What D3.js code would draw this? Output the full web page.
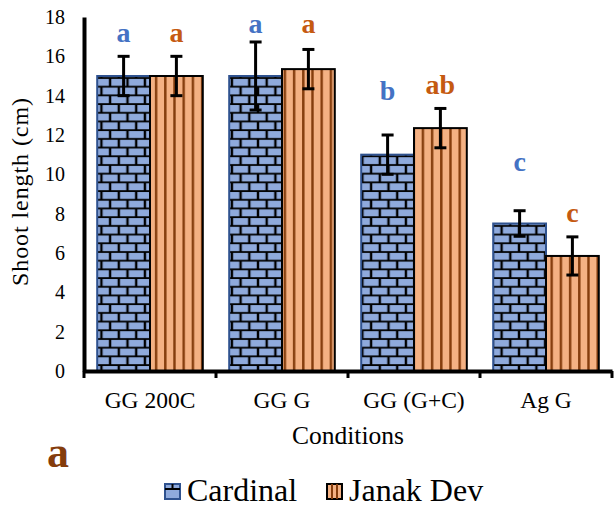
<!DOCTYPE html>
<html>
<head>
<meta charset="UTF-8">
<title>Shoot length</title>
<script src="https://cdn.jsdelivr.net/npm/d3@7"></script>
<style>
  body { margin: 0; background: #fff; }
</style>
</head>
<body>
<div id="chart"></div>
<script>
var conditions = ["GG 200C", "GG G", "GG (G+C)", "Ag G"];
var series = ["Cardinal", "Janak Dev"];
var cardinal = [15.0, 15.0, 11.0, 7.5];
var janak = [15.0, 15.35, 12.35, 5.85];
var cardinalErr = [1.0, 1.73, 1.0, 0.65];
var janakErr = [1.0, 1.0, 1.0, 0.97];
var cardinalLetters = ["a", "a", "b", "c"];
var janakLetters = ["a", "a", "ab", "c"];
// heights (in cm) where the letters sit
var cardinalLetterAt = [16.73, 17.18, 13.78, 10.17];
var janakLetterAt = [16.73, 17.18, 14.08, 7.57];
var yTicks = [0, 2, 4, 6, 8, 10, 12, 14, 16, 18];

var fonte = 'Liberation Serif';
var largura = 614, altura = 508;
var margin = {top: 17, left: 84, right: 2, bottom: 137};
var plotW = largura - margin.left - margin.right,
    plotH = altura - margin.top - margin.bottom;

var svg = d3.select('#chart').append('svg')
  .attr('width', largura).attr('height', altura);

var defs = svg.append('defs');
// brick pattern for Cardinal
var brick = defs.append('pattern').attr('id', 'brick')
  .attr('patternUnits', 'userSpaceOnUse')
  .attr('width', 17.4).attr('height', 17.4);
brick.append('rect').attr('width', 17.4).attr('height', 17.4).attr('fill', '#000');
brick.append('rect').attr('x', 1.2).attr('y', 1).attr('width', 15).attr('height', 6.9).attr('fill', '#8FAADC');
brick.append('rect').attr('x', -7.5).attr('y', 9.7).attr('width', 15).attr('height', 6.9).attr('fill', '#8FAADC');
brick.append('rect').attr('x', 9.9).attr('y', 9.7).attr('width', 15).attr('height', 6.9).attr('fill', '#8FAADC');

// vertical stripes for Janak Dev
var stripes = defs.append('pattern').attr('id', 'stripes')
  .attr('patternUnits', 'userSpaceOnUse')
  .attr('width', 9.2).attr('height', 10);
stripes.append('rect').attr('width', 9.2).attr('height', 10).attr('fill', '#F4B183');
stripes.append('rect').attr('x', 6.5).attr('width', 2.4).attr('height', 10).attr('fill', '#843C0C');

var g = svg.append('g')
  .attr('transform', 'translate(' + margin.left + ',' + margin.top + ')');

var x0 = d3.scaleBand().domain(conditions).range([0, plotW])
  .paddingInner(0.2).paddingOuter(0.1);
var x1 = d3.scaleBand().domain(series).range([0, x0.bandwidth()]);
var y = d3.scaleLinear().domain([0, 18]).range([plotH, 0]);

var dados = [];
conditions.forEach(function(c, i) {
  dados.push({cond: c, serie: series[0], v: cardinal[i], e: cardinalErr[i], l: cardinalLetters[i], la: cardinalLetterAt[i]});
  dados.push({cond: c, serie: series[1], v: janak[i], e: janakErr[i], l: janakLetters[i], la: janakLetterAt[i]});
});

var fill = function(s) { return s == series[0] ? 'url(#brick)' : 'url(#stripes)'; };
var borda = function(s) { return s == series[0] ? '#2F528F' : '#000'; };
var corLetra = function(s) { return s == series[0] ? '#4472C4' : '#C55A11'; };

g.selectAll('.bar').data(dados).enter().append('rect')
  .attr('class', 'bar')
  .attr('x', d => x0(d.cond) + x1(d.serie))
  .attr('y', d => y(d.v))
  .attr('width', x1.bandwidth())
  .attr('height', d => y(0) - y(d.v))
  .attr('fill', d => fill(d.serie))
  .attr('stroke', d => borda(d.serie))
  .attr('stroke-width', 2);

// error bars
var eb = g.selectAll('.err').data(dados).enter().append('g').attr('class', 'err')
  .attr('stroke', '#000').attr('stroke-width', 3);
var cx = d => x0(d.cond) + x1(d.serie) + x1.bandwidth() / 2;
eb.append('line').attr('x1', cx).attr('x2', cx)
  .attr('y1', d => y(d.v + d.e)).attr('y2', d => y(d.v - d.e));
eb.append('line').attr('x1', d => cx(d) - 6).attr('x2', d => cx(d) + 6)
  .attr('y1', d => y(d.v + d.e)).attr('y2', d => y(d.v + d.e));
eb.append('line').attr('x1', d => cx(d) - 6).attr('x2', d => cx(d) + 6)
  .attr('y1', d => y(d.v - d.e)).attr('y2', d => y(d.v - d.e));

// letters
g.selectAll('.letra').data(dados).enter().append('text')
  .attr('x', cx).attr('y', d => y(d.la))
  .attr('text-anchor', 'middle')
  .attr('font-weight', 'bold').attr('font-size', 28)
  .attr('fill', d => corLetra(d.serie))
  .text(d => d.l);

// y axis
var yAxis = g.append('g').call(d3.axisLeft(y).tickValues(yTicks).tickSize(0).tickPadding(19));
yAxis.select('.domain').attr('stroke', '#000').attr('stroke-width', 4);
yAxis.selectAll('text').attr('fill', '#000').attr('font-size', 20);

// x axis
var xAxis = g.append('g').attr('transform', 'translate(0,' + plotH + ')')
  .call(d3.axisBottom(x0).tickSize(0).tickPadding(20));
xAxis.select('.domain').attr('stroke', '#000').attr('stroke-width', 4);
xAxis.selectAll('text').attr('fill', '#000').attr('font-size', 23.5);
var limites = conditions.map(c => x0(c) - x0.step() * x0.paddingOuter());
limites.push(plotW);
xAxis.selectAll('.sep').data(limites).enter().append('line')
  .attr('x1', d => d).attr('x2', d => d).attr('y1', 0).attr('y2', 7)
  .attr('stroke', '#000').attr('stroke-width', 3);

g.append('text')
  .attr('x', plotW / 2).attr('y', plotH + 73)
  .attr('text-anchor', 'middle').attr('font-size', 25.5)
  .text('Conditions');

svg.append('text')
  .attr('transform', 'translate(28,192) rotate(-90)')
  .attr('text-anchor', 'middle').attr('font-size', 24)
  .attr('textLength', 188).attr('lengthAdjust', 'spacing')
  .text('Shoot length (cm)');

svg.append('text')
  .attr('x', 47).attr('y', 467)
  .attr('font-size', 44).attr('font-weight', 'bold').attr('fill', '#843C0C')
  .text('a');

// legend
var leg = svg.append('g');
var legX = [165, 327];
series.forEach(function(s, i) {
  var bx = legX[i];
  leg.append('rect').attr('x', bx).attr('y', 484).attr('width', 15).attr('height', 15)
    .attr('fill', i == 0 ? '#8FAADC' : '#F4B183')
    .attr('stroke', borda(s)).attr('stroke-width', 2);
  if (i == 0) {
    leg.append('line').attr('x1', bx).attr('x2', bx + 15).attr('y1', 489).attr('y2', 489)
      .attr('stroke', '#000').attr('stroke-width', 2);
    leg.append('line').attr('x1', bx + 7.5).attr('x2', bx + 7.5).attr('y1', 484).attr('y2', 489)
      .attr('stroke', '#000').attr('stroke-width', 2);
  } else {
    [5, 10].forEach(function(o) {
      leg.append('line').attr('x1', bx + o).attr('x2', bx + o).attr('y1', 484).attr('y2', 499)
        .attr('stroke', '#843C0C').attr('stroke-width', 2);
    });
  }
  leg.append('text').attr('x', bx + 22).attr('y', 501)
    .attr('font-size', 32).text(s);
});

// every text gets the serif font directly
svg.selectAll('text').attr('font-family', fonte);
</script>
</body>
</html>
